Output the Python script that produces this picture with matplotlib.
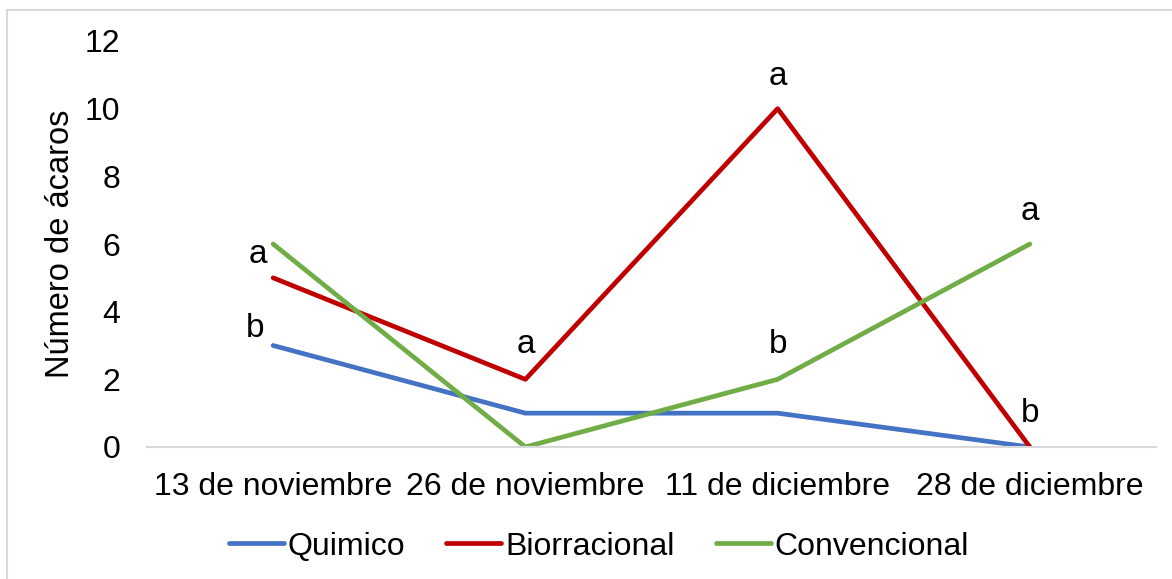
import matplotlib

matplotlib.use("Agg")
import matplotlib.pyplot as plt
from matplotlib.patches import Rectangle

plt.rcParams["font.family"] = ["Liberation Sans", "DejaVu Sans"]

fechas = ["13 de noviembre", "26 de noviembre", "11 de diciembre", "28 de diciembre"]
quimico = [3, 1, 1, 0]
biorracional = [5, 2, 10, 0]
convencional = [6, 0, 2, 6]

# letras de significancia: (indice de fecha, altura de la linea base, letra)
letras_idx = [0, 0, 1, 2, 2, 3, 3]
letras_y = [5.44, 3.25, 2.78, 10.70, 2.78, 6.71, 0.74]
letras = ["a", "b", "a", "a", "b", "a", "b"]
letras_dx = [-0.06, -0.07, 0, 0, 0, 0, 0]

series = [
    ("Quimico", quimico, "#4472C4"),
    ("Biorracional", biorracional, "#C00000"),
    ("Convencional", convencional, "#70AD47"),
]

fig = plt.figure(figsize=(11.72, 5.79), dpi=100)
ax = fig.add_axes([147 / 1172, 132 / 579, (1156 - 147) / 1172, (538 - 132) / 579])

x = list(range(len(fechas)))
for nombre, valores, color in series:
    ax.plot(x, valores, color=color, lw=3.4, label=nombre, solid_capstyle="round")

for i, y, t, dx in zip(letras_idx, letras_y, letras, letras_dx):
    ax.text(i + dx, y, t, ha="center", va="baseline", fontsize=24, color="black")

ax.set_xlim(-0.5, 3.5)
ax.set_ylim(0, 12)
ax.set_yticks(range(0, 13, 2))
ax.set_xticks(x)
ax.set_xticklabels(fechas)
ax.tick_params(axis="y", length=0, labelsize=23, pad=19)
ax.tick_params(axis="x", length=0, labelsize=23, pad=18)
ax.set_ylabel("Número de ácaros", fontsize=23.5, va="center")
ax.yaxis.set_label_coords(-0.0862, 0.5)

for lado in ["top", "right", "left"]:
    ax.spines[lado].set_visible(False)
ax.spines["bottom"].set_color("#D9D9D9")
ax.spines["bottom"].set_linewidth(1.5)

fig.legend(
    loc="center",
    bbox_to_anchor=(0.511, 0.056),
    ncol=3,
    frameon=False,
    fontsize=23,
    handlelength=1.72,
    handletextpad=0.13,
    columnspacing=1.28,
)

# borde del area del grafico
fig.patches.append(
    Rectangle((7 / 1172, -0.05), 1.1, (569 / 579) + 0.05, transform=fig.transFigure,
              fill=False, edgecolor="#D9D9D9", lw=1.5, zorder=0)
)

fig.savefig("out.png", dpi=100)
